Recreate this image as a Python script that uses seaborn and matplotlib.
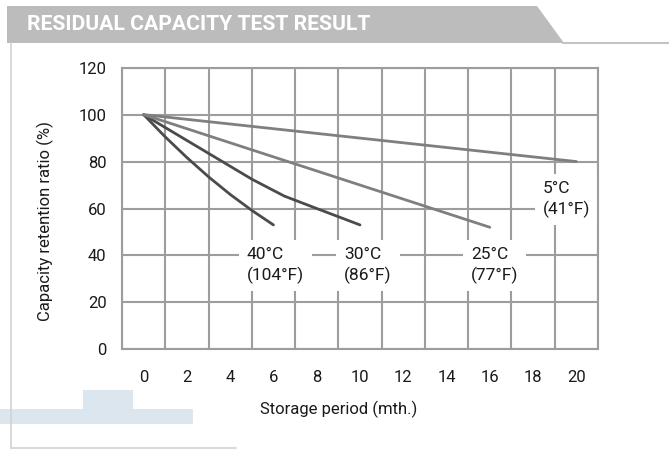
import matplotlib
matplotlib.use("Agg")
import matplotlib.pyplot as plt
import matplotlib.patches as mpatches
import numpy as np
import pandas as pd
import seaborn as sns

# values
months_40c = [0, 1, 2, 3, 4, 5, 6]
capacity_40c = [100, 90.5, 81.7, 73.5, 66, 59.2, 53]
months_30c = [0, 2, 4, 5, 6.5, 8, 10]
capacity_30c = [100, 89, 78, 72.5, 65.3, 60, 53]
months_25c = [0, 16]
capacity_25c = [100, 52]
months_5c = [0, 20]
capacity_5c = [100, 80]

curve_names = ["40°C\n(104°F)", "30°C\n(86°F)", "25°C\n(77°F)", "5°C\n(41°F)"]
x_ticks = list(range(0, 21, 2))
y_ticks = list(range(0, 121, 20))

title = "RESIDUAL CAPACITY TEST RESULT"
x_title = "Storage period (mth.)"
y_title = "Capacity retention ratio (%)"

sns.set_style("white")
plt.rcParams["font.family"] = ["Roboto", "DejaVu Sans"]

W, H = 669, 450
fig = plt.figure(figsize=(W / 100, H / 100), dpi=100)


def fx(px):
    return px / W


def fy(py):
    return 1 - py / H


# page decoration: title bar, frame lines and the pale blue tab
bar = mpatches.Polygon([(fx(7), fy(6)), (fx(537), fy(6)), (fx(564), fy(43)), (fx(7), fy(43))],
                       closed=True, transform=fig.transFigure, facecolor="#bcbcbc", edgecolor="none")
fig.patches.append(bar)
fig.add_artist(plt.Line2D([fx(563), fx(669)], [fy(43), fy(43)], color="#c4c4c4", lw=1.5))
fig.add_artist(plt.Line2D([fx(11), fx(11)], [fy(43), fy(448)], color="#d2d2d2", lw=1.2))
fig.add_artist(plt.Line2D([fx(11), fx(236)], [fy(448), fy(448)], color="#d2d2d2", lw=1.2))
fig.patches.append(mpatches.Rectangle((fx(83), fy(409)), fx(50), 19 / H, transform=fig.transFigure,
                                      facecolor="#dce6ee", edgecolor="none"))
fig.patches.append(mpatches.Rectangle((fx(0), fy(424)), fx(193), 15 / H, transform=fig.transFigure,
                                      facecolor="#dce6ee", edgecolor="none"))
fig.text(fx(27), fy(25), title, color="white", fontsize=15.2, fontweight="bold", va="center", ha="left")

ax = fig.add_axes([fx(122), fy(349.3), fx(598) - fx(122), fy(67.7) - fy(349.3)])

dark = "#4b4b4b"
mid = "#7f7f7f"
series = [
    (months_40c, capacity_40c, dark),
    (months_30c, capacity_30c, dark),
    (months_25c, capacity_25c, mid),
    (months_5c, capacity_5c, mid),
]
for months, cap, color in series:
    df = pd.DataFrame({"month": months, "capacity": cap})
    sns.lineplot(data=df, x="month", y="capacity", color=color, lw=2.0, ax=ax, sort=False)

ax.set_xlim(-1, 21)
ax.set_ylim(0, 120)
ax.set_xticks(x_ticks)
ax.set_xticks(np.arange(-1, 22, 2), minor=True)
ax.set_yticks(y_ticks)
ax.set_xticklabels([str(t) for t in x_ticks])
ax.set_yticklabels([str(t) for t in y_ticks])
ax.set_xlabel("")
ax.set_ylabel("")

grid_color = "#9d9d9d"
ax.grid(False)
ax.grid(which="minor", axis="x", color=grid_color, lw=1.5)
ax.grid(which="major", axis="y", color=grid_color, lw=1.5)
ax.set_axisbelow(True)
ax.tick_params(which="both", length=0, labelsize=12, colors="#1a1a1a")
ax.tick_params(axis="x", pad=15)
ax.tick_params(axis="y", pad=11)
for sp in ax.spines.values():
    sp.set_color(grid_color)
    sp.set_linewidth(1.5)
    sp.set_zorder(5)

# curve labels with white boxes that cut the grid
label_pos = [(6.08, 35.9), (10.37, 35.9), (16.22, 35.9), (19.55, 64.0)]
for name, (lx, ly) in zip(curve_names, label_pos):
    ax.text(lx, ly, name, ha="center", va="center", multialignment="left", fontsize=12.5,
            color="#1a1a1a", linespacing=1.35, zorder=4,
            bbox=dict(boxstyle="square,pad=0.45", facecolor="white", edgecolor="none"))

fig.text(fx(339), fy(409), x_title, ha="center", va="center", fontsize=12, color="#1a1a1a")
fig.text(fx(45), fy(221), y_title, ha="center", va="center", rotation=90, fontsize=12, color="#1a1a1a")

fig.savefig("out.png", dpi=100)
